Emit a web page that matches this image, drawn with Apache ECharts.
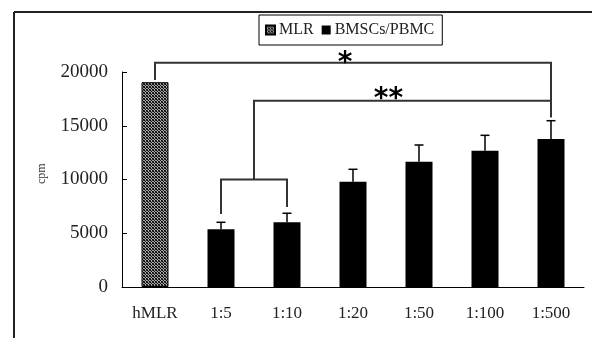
<!DOCTYPE html>
<html><head><meta charset="utf-8">
<script src="https://cdn.jsdelivr.net/npm/echarts@6/dist/echarts.min.js"></script>
<style>html,body{margin:0;padding:0;background:#fff}#c{width:592px;height:338px}</style>
</head><body><div id="c"></div>
<script>
// ---- data ----
const categories = ['hMLR', '1:5', '1:10', '1:20', '1:50', '1:100', '1:500'];
const mlrValues = [19050, '-', '-', '-', '-', '-', '-'];
const ratioValues = ['-', 5370, 6020, 9800, 11650, 12680, 13770];
const ratioErrors = [0, 650, 840, 1150, 1560, 1430, 1700];
const yTicks = [0, 5000, 10000, 15000, 20000];
// significance brackets: [fromIndex, toIndex, level, leftLegEnd, rightLegEnd]
const bracketStar = [0, 6, 20850, 19250, 15800];
const bracketDouble = [1.5, 6, 17330, 10000, 15800];
const bracketGroup = [1, 2, 10000, 6800, 7450];
const starLabels = ['*', '**'];

const FONT = '"Liberation Serif", serif';
const pc = document.createElement('canvas');
pc.width = 3; pc.height = 3;
const pctx = pc.getContext('2d');
const pix = [['#000','#888','#333'],['#999','#111','#aaa'],['#333','#bbb','#000']];
for (let r = 0; r < 3; r++) for (let c = 0; c < 3; c++) { pctx.fillStyle = pix[r][c]; pctx.fillRect(c, r, 1, 1); }

const chart = echarts.init(document.getElementById('c'), null, {renderer: 'canvas'});

function xc(api, idx, y) {
  if (Number.isInteger(idx)) return api.coord([idx, y]);
  const a = api.coord([Math.floor(idx), y]), b = api.coord([Math.ceil(idx), y]);
  return [(a[0] + b[0]) / 2, a[1]];
}
function bracketShapes(api, br, style) {
  const L = xc(api, br[0], br[2]), R = xc(api, br[1], br[2]);
  const lEnd = xc(api, br[0], br[3]), rEnd = xc(api, br[1], br[4]);
  return {type: 'polyline', shape: {points: [lEnd, L, R, rEnd]}, style: style};
}

chart.setOption({
  animation: false,
  backgroundColor: '#fff',
  graphic: [
    {type: 'line', shape: {x1: 14, y1: 12, x2: 592, y2: 12}, style: {stroke: '#222', lineWidth: 2}},
    {type: 'line', shape: {x1: 14, y1: 12, x2: 14, y2: 338}, style: {stroke: '#222', lineWidth: 2}},
    {type: 'text', rotation: Math.PI / 2, x: 36, y: 184, style: {text: 'cpm', font: '12px ' + FONT, fill: '#333'}}
  ],
  legend: {
    left: 259, top: 15, itemWidth: 9, itemHeight: 9, itemGap: 8,
    padding: [7, 8, 7, 6],
    borderColor: '#000', borderWidth: 1, backgroundColor: '#fff',
    textStyle: {fontFamily: FONT, fontSize: 16, color: '#222', padding: [0, 0, 0, -1]},
    data: [{name: 'MLR', icon: 'rect'}, {name: 'BMSCs/PBMC', icon: 'rect'}]
  },
  grid: {left: 122, right: 8, top: 72, bottom: 51},
  xAxis: {
    type: 'category', data: categories, boundaryGap: true,
    axisLine: {lineStyle: {color: '#000', width: 1}},
    axisTick: {inside: true, length: 5, lineStyle: {color: '#000'}},
    axisLabel: {fontFamily: FONT, fontSize: 17, color: '#222', margin: 18}
  },
  yAxis: {
    type: 'value', min: 0, max: 20000, interval: 5000,
    axisLine: {show: true, lineStyle: {color: '#000', width: 1}},
    axisTick: {show: true, inside: true, length: 5, lineStyle: {color: '#000'}},
    splitLine: {show: false},
    axisLabel: {fontFamily: FONT, fontSize: 19, color: '#222', margin: 14,
      formatter: v => yTicks.indexOf(v) >= 0 ? String(v) : ''}
  },
  series: [
    {name: 'MLR', type: 'bar', stack: 's', barWidth: 27, data: mlrValues,
      itemStyle: {color: {image: pc, repeat: 'repeat'}, borderColor: '#000', borderWidth: 1}},
    {name: 'BMSCs/PBMC', type: 'bar', stack: 's', barWidth: 27, data: ratioValues,
      itemStyle: {color: '#000'}},
    {type: 'custom', name: 'err', silent: true, clip: false, z: 5,
      data: ratioValues.map((v, i) => [i, v, ratioErrors[i]]).filter(d => d[1] !== '-'),
      renderItem: function (params, api) {
        const i = api.value(0), v = api.value(1), e = api.value(2);
        const p0 = api.coord([i, v]), p1 = api.coord([i, v + e]);
        return {type: 'group', children: [
          {type: 'line', shape: {x1: p0[0], y1: p0[1], x2: p1[0], y2: p1[1]}, style: {stroke: '#000', lineWidth: 1.5}},
          {type: 'line', shape: {x1: p1[0] - 4.5, y1: p1[1], x2: p1[0] + 4.5, y2: p1[1]}, style: {stroke: '#000', lineWidth: 1.5}}
        ]};
      }},
    {type: 'custom', name: 'brackets', silent: true, clip: false, z: 6,
      data: [[0]],
      renderItem: function (params, api) {
        const st = {stroke: '#333', lineWidth: 2, fill: null};
        const s1 = xc(api, bracketStar[0], bracketStar[2]), s2 = xc(api, bracketStar[1], bracketStar[2]);
        const d1 = xc(api, bracketDouble[0], bracketDouble[2]), d2 = xc(api, bracketDouble[1], bracketDouble[2]);
        return {type: 'group', children: [
          bracketShapes(api, bracketStar, st),
          bracketShapes(api, bracketDouble, st),
          bracketShapes(api, bracketGroup, st),
          {type: 'text', style: {text: starLabels[0], x: (s1[0] + s2[0]) / 2 - 8, y: s1[1] + 15,
            font: 'bold 28px "DejaVu Sans", sans-serif', fill: '#000', align: 'center', verticalAlign: 'bottom'}},
          {type: 'text', style: {text: starLabels[1], x: (d1[0] + d2[0]) / 2 - 14, y: d1[1] + 13,
            font: 'bold 28px "DejaVu Sans", sans-serif', fill: '#000', align: 'center', verticalAlign: 'bottom'}}
        ]};
      }}
  ]
});
</script></body></html>
